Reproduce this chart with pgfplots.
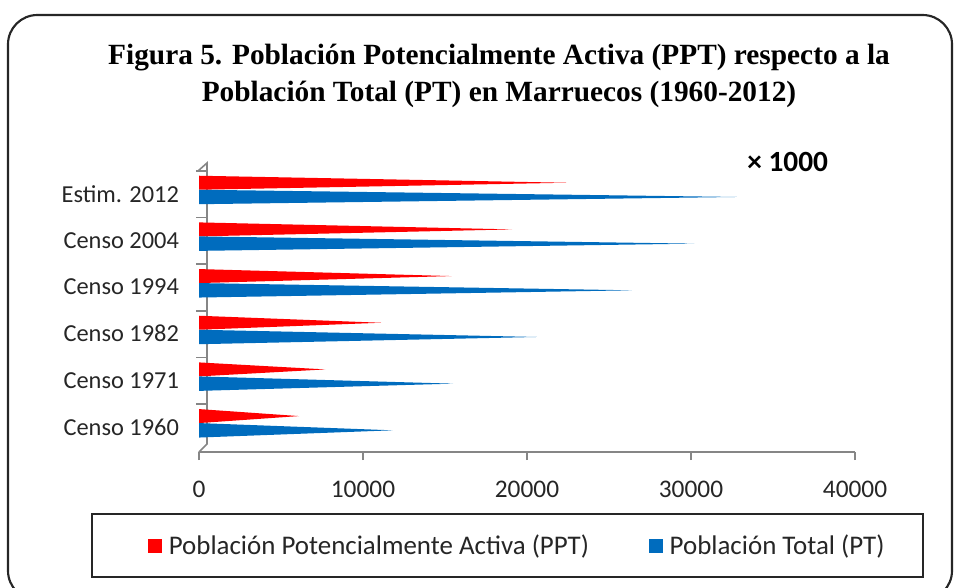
\documentclass[border=0pt]{standalone}
\usepackage{pgfplots}
\pgfplotsset{compat=1.18}
\usepackage{fontspec}
\setmainfont{Carlito}
\newfontfamily\titlefont{Liberation Serif}
\definecolor{ppt}{RGB}{255,0,0}
\definecolor{pt}{RGB}{0,108,190}
\definecolor{axgray}{RGB}{134,134,134}
\begin{document}
\begin{tikzpicture}
\begin{scope}[x=0.75pt,y=-0.75pt]
\useasboundingbox (0,0) rectangle (960,587);
\draw[line width=1.6pt, black!85, rounded corners=22pt] (8,15) rectangle (952,600);
\node[font=\titlefont\bfseries\fontsize{22}{26}\selectfont, anchor=base, inner sep=0pt] at (499,64) {Figura 5. Población Potencialmente Activa (PPT) respecto a la};
\node[font=\titlefont\bfseries\fontsize{22}{26}\selectfont, anchor=base, inner sep=0pt] at (499,101) {Población Total (PT) en Marruecos (1960-2012)};
\node[font=\bfseries\fontsize{22}{26}\selectfont, anchor=west, inner sep=0pt] at (747,162) {× 1000};
\draw[line width=1.6pt, black!85] (92,514) rectangle (923,577);
\draw[axgray, line width=1.2pt] (198,171) -- (207,163) -- (207,444) -- (199,452);
\foreach \k in {0,...,5} \draw[axgray, line width=1.2pt] (196,{170.7+46.67*\k}) -- (207,{170.7+46.67*\k});
\end{scope}
\begin{axis}[
  at={(149.25pt,-339pt)}, anchor=south west,
  scale only axis, width=492pt, height=214.2pt,
  xmin=0, xmax=40000, ymin=-0.62, ymax=5.5,
  axis x line*=bottom, axis y line*=left,
  x axis line style={-, axgray, line width=1.2pt},
  y axis line style={draw=none},
  xtick={0,10000,20000,30000,40000},
  xticklabels={0,10000,20000,30000,40000},
  scaled x ticks=false,
  ytick={0,1,2,3,4,5},
  yticklabels={Censo 1960,Censo 1971,Censo 1982,Censo 1994,Censo 2004,Estim. 2012},
  tick align=outside, major tick length=6pt,
  xtick style={axgray, line width=1.2pt},
  ytick style={draw=none},
  xticklabel style={font=\fontsize{19}{22}\selectfont, text=black!85, yshift=-12pt},
  yticklabel style={font=\fontsize{18.3}{21}\selectfont, text=black!85, xshift=-5.5pt, yshift=-3pt},
  clip=false,
  legend columns=2,
  legend style={at={(-0.078,-0.329)}, anchor=west, draw=none, fill=none, inner sep=0pt,
    font=\fontsize{20.2}{24}\selectfont, text=black!85,
    /tikz/every even column/.append style={column sep=43pt}},
  legend image code/.code={\fill[#1] (0pt,-5.25pt) rectangle (10.5pt,5.25pt); \path (13.5pt,0pt);},
]
% Poblacion Potencialmente Activa (PPT)
\addplot[fill=ppt, draw=none, forget plot] coordinates {(0,0) (6100,0.15) (0,0.3)} -- cycle;
\addplot[fill=ppt, draw=none, forget plot] coordinates {(0,1) (7700,1.15) (0,1.3)} -- cycle;
\addplot[fill=ppt, draw=none, forget plot] coordinates {(0,2) (11100,2.15) (0,2.3)} -- cycle;
\addplot[fill=ppt, draw=none, forget plot] coordinates {(0,3) (15400,3.15) (0,3.3)} -- cycle;
\addplot[fill=ppt, draw=none, forget plot] coordinates {(0,4) (19100,4.15) (0,4.3)} -- cycle;
\addplot[fill=ppt, draw=none, forget plot] coordinates {(0,5) (22400,5.15) (0,5.3)} -- cycle;
% Poblacion Total (PT)
\addplot[fill=pt, draw=none, forget plot] coordinates {(0,-0.31) (11800,-0.155) (0,0)} -- cycle;
\addplot[fill=pt, draw=none, forget plot] coordinates {(0,0.69) (15500,0.845) (0,1)} -- cycle;
\addplot[fill=pt, draw=none, forget plot] coordinates {(0,1.69) (20600,1.845) (0,2)} -- cycle;
\addplot[fill=pt, draw=none, forget plot] coordinates {(0,2.69) (26400,2.845) (0,3)} -- cycle;
\addplot[fill=pt, draw=none, forget plot] coordinates {(0,3.69) (30200,3.845) (0,4)} -- cycle;
\addplot[fill=pt, draw=none, forget plot] coordinates {(0,4.69) (32800,4.845) (0,5)} -- cycle;
\addlegendimage{fill=ppt, draw=none}
\addlegendentry{Población Potencialmente Activa (PPT)}
\addlegendimage{fill=pt, draw=none}
\addlegendentry{Población Total (PT)}
\end{axis}
\end{tikzpicture}
\end{document}
